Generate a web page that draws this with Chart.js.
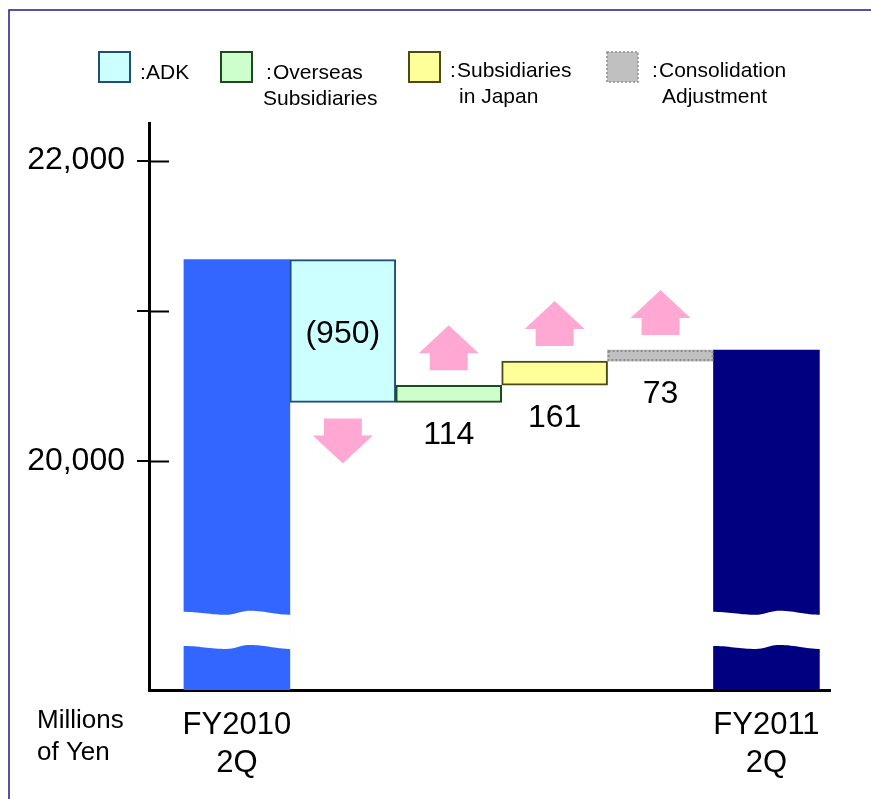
<!DOCTYPE html>
<html>
<head>
<meta charset="utf-8">
<script src="https://cdn.jsdelivr.net/npm/chart.js@4.4.0/dist/chart.umd.min.js"></script>
<style>
  html, body { margin: 0; padding: 0; background: #fff; }
  canvas { display: block; }
</style>
</head>
<body>
<canvas id="chartWaterfall" width="871" height="799"></canvas>
<script>
const categories = ['FY2010 2Q', 'ADK', 'Overseas Subsidiaries', 'Subsidiaries in Japan', 'Consolidation Adjustment', 'FY2011 2Q'];
const xTickLabels = [['FY2010', '2Q'], ['FY2011', '2Q']];
const startValue = 21342;
const changes = [-950, 114, 161, 73];
const changeLabels = ['(950)', '114', '161', '73'];
const yTicks = [20000, 21000, 22000];
const yLabelled = [20000, 22000];
const axisMin = 18480, axisMax = 22250;
const breakTop = 19000, breakBottom = 18773;
const legendLines = [['ADK'], ['Overseas', 'Subsidiaries'], ['Subsidiaries', 'in Japan'], ['Consolidation', 'Adjustment']];

const FONT = "'Liberation Sans', Arial, sans-serif";
Chart.defaults.font.family = FONT;
Chart.defaults.color = '#000';

// waterfall ranges
let run = startValue;
const ranges = [[axisMin, startValue]];
changes.forEach(c => {
  const next = run + c;
  ranges.push([Math.min(run, next), Math.max(run, next)]);
  run = next;
});
ranges.push([axisMin, run]);

const fills = ['#3366ff', '#ccffff', '#ccffcc', '#ffff99', '#c0c0c0', '#000080'];
const borders = ['#3366ff', '#1f4e79', '#1c4a1c', '#4b4b16', '#c0c0c0', '#000080'];
const borderWidths = [0, 2, 2, 2, 0, 0];
const PINK = '#ffa8d4';

function wave(t) {
  const k = [[0, 0], [0.4, 3], [0.62, -1], [1, 3]];
  for (let i = 0; i < k.length - 1; i++) {
    if (t <= k[i + 1][0]) {
      const u = (t - k[i][0]) / (k[i + 1][0] - k[i][0]);
      const e = (1 - Math.cos(Math.PI * u)) / 2;
      return k[i][1] + (k[i + 1][1] - k[i][1]) * e;
    }
  }
  return k[k.length - 1][1];
}

function arrow(ctx, cx, y, up) {
  // y = base side of arrow (bottom for up, top for down)
  const d = up ? -1 : 1;
  ctx.fillStyle = PINK;
  ctx.beginPath();
  ctx.moveTo(cx - 19, y);
  ctx.lineTo(cx - 19, y + d * 17);
  ctx.lineTo(cx - 30, y + d * 17);
  ctx.lineTo(cx, y + d * 45);
  ctx.lineTo(cx + 30, y + d * 17);
  ctx.lineTo(cx + 19, y + d * 17);
  ctx.lineTo(cx + 19, y);
  ctx.closePath();
  ctx.fill();
}

const decor = {
  id: 'decor',
  beforeDraw(chart) {
    const ctx = chart.ctx;
    ctx.save();
    // frame
    ctx.strokeStyle = '#1c1c8a';
    ctx.lineWidth = 1.5;
    ctx.beginPath();
    ctx.moveTo(9, 799);
    ctx.lineTo(9, 10);
    ctx.lineTo(871, 10);
    ctx.stroke();

    // legend
    const boxX = [99, 221, 409, 607];
    const boxFill = ['#ccffff', '#ccffcc', '#ffff99', '#c0c0c0'];
    const boxStroke = ['#1f4e79', '#1c4a1c', '#4b4b16', '#8c8c8c'];
    const colonX = [140, 266, 450, 652];
    const line1X = [146, 273, 457, 659];
    const line2X = [0, 263, 459, 662];
    const base1 = [79, 79, 77, 77];
    const base2 = [0, 105, 103, 103];
    ctx.font = '21px ' + FONT;
    ctx.textBaseline = 'alphabetic';
    ctx.textAlign = 'left';
    legendLines.forEach((lines, i) => {
      ctx.fillStyle = boxFill[i];
      ctx.fillRect(boxX[i], 52, 31, 30);
      ctx.strokeStyle = boxStroke[i];
      ctx.lineWidth = i === 3 ? 1.5 : 2;
      ctx.setLineDash(i === 3 ? [2, 2] : []);
      ctx.strokeRect(boxX[i], 52, 31, 30);
      ctx.setLineDash([]);
      ctx.fillStyle = '#000';
      ctx.fillText(':', colonX[i], base1[i]);
      ctx.fillText(lines[0], line1X[i], base1[i]);
      if (lines[1]) ctx.fillText(lines[1], line2X[i], base2[i]);
    });

    // unit label
    ctx.font = '26px ' + FONT;
    ctx.fillText('Millions', 37, 728);
    ctx.fillText('of Yen', 37, 760);
    ctx.restore();
  },
  afterDatasetsDraw(chart) {
    const ctx = chart.ctx;
    const y = chart.scales.y;
    const els = chart.getDatasetMeta(0).data;
    ctx.save();

    // broken-axis wave bands on the total bars
    [0, els.length - 1].forEach(i => {
      const el = els[i];
      const x0 = el.x - el.width / 2 - 1, w = el.width + 2;
      const yt = y.getPixelForValue(breakTop), yb = y.getPixelForValue(breakBottom);
      ctx.fillStyle = '#fff';
      ctx.beginPath();
      for (let s = 0; s <= 40; s++) ctx.lineTo(x0 + w * s / 40, yt + wave(s / 40));
      for (let s = 40; s >= 0; s--) ctx.lineTo(x0 + w * s / 40, yb + wave(s / 40));
      ctx.closePath();
      ctx.fill();
    });

    // dotted outline for consolidation adjustment
    const c = els[4];
    ctx.strokeStyle = '#8c8c8c';
    ctx.lineWidth = 2;
    ctx.setLineDash([2, 2]);
    ctx.strokeRect(c.x - c.width / 2 + 1, Math.min(c.y, c.base) + 1, c.width - 2, Math.abs(c.base - c.y) - 2);
    ctx.setLineDash([]);

    // arrows and value labels
    ctx.font = '32px ' + FONT;
    ctx.textAlign = 'center';
    ctx.textBaseline = 'middle';
    changes.forEach((v, k) => {
      const el = els[k + 1];
      const top = Math.min(el.y, el.base), bottom = Math.max(el.y, el.base);
      if (v < 0) {
        arrow(ctx, el.x, bottom + 16, false);
        ctx.fillStyle = '#000';
        ctx.fillText(changeLabels[k], el.x, (top + bottom) / 2 + 3);
      } else {
        arrow(ctx, el.x, top - 15, true);
        ctx.fillStyle = '#000';
        ctx.fillText(changeLabels[k], el.x, bottom + 33);
      }
    });

    // tick marks crossing into the plot
    ctx.strokeStyle = '#000';
    ctx.lineWidth = 2;
    yTicks.forEach(v => {
      const py = Math.round(y.getPixelForValue(v)) + 0.5;
      ctx.beginPath();
      ctx.moveTo(chart.chartArea.left, py);
      ctx.lineTo(chart.chartArea.left + 20, py);
      ctx.stroke();
    });
    ctx.restore();
  }
};

const chartWaterfall = new Chart('chartWaterfall', {
  type: 'bar',
  data: {
    labels: categories,
    datasets: [{
      data: ranges.map((r, i) => ({ x: i, y: r })),
      backgroundColor: fills,
      borderColor: borders,
      borderWidth: borderWidths,
      borderSkipped: false,
      barPercentage: 1,
      categoryPercentage: 1
    }]
  },
  options: {
    responsive: false,
    animation: false,
    devicePixelRatio: 1,
    layout: { padding: { top: 123, right: 41, bottom: 0, left: 0 } },
    plugins: { legend: { display: false }, tooltip: { enabled: false } },
    scales: {
      x: {
        type: 'linear',
        offset: false,
        min: -0.83,
        max: 5.6,
        bounds: 'data',
        afterBuildTicks: s => { s.ticks = [{ value: 0 }, { value: 5 }]; },
        afterFit: s => { s.height = 109; },
        ticks: {
          autoSkip: false,
          maxRotation: 0,
          padding: 16,
          color: '#000',
          font: { size: 31, lineHeight: 1.23 },
          callback: v => (v === 0 ? xTickLabels[0] : xTickLabels[1])
        },
        grid: { display: false, drawTicks: false, offset: false },
        border: { display: true, color: '#000', width: 3 }
      },
      y: {
        type: 'linear',
        min: axisMin,
        max: axisMax,
        bounds: 'data',
        afterBuildTicks: s => { s.ticks = yTicks.map(v => ({ value: v })); },
        afterFit: s => { s.width = 149; },
        ticks: {
          padding: 12,
          color: '#000',
          font: { size: 32 },
          callback: v => (yLabelled.includes(v) ? v.toLocaleString('en-US') : '')
        },
        grid: { drawOnChartArea: false, drawTicks: true, tickLength: 12, color: '#000', lineWidth: 2 },
        border: { display: true, color: '#000', width: 3 }
      }
    }
  },
  plugins: [decor]
});
</script>
</body>
</html>
